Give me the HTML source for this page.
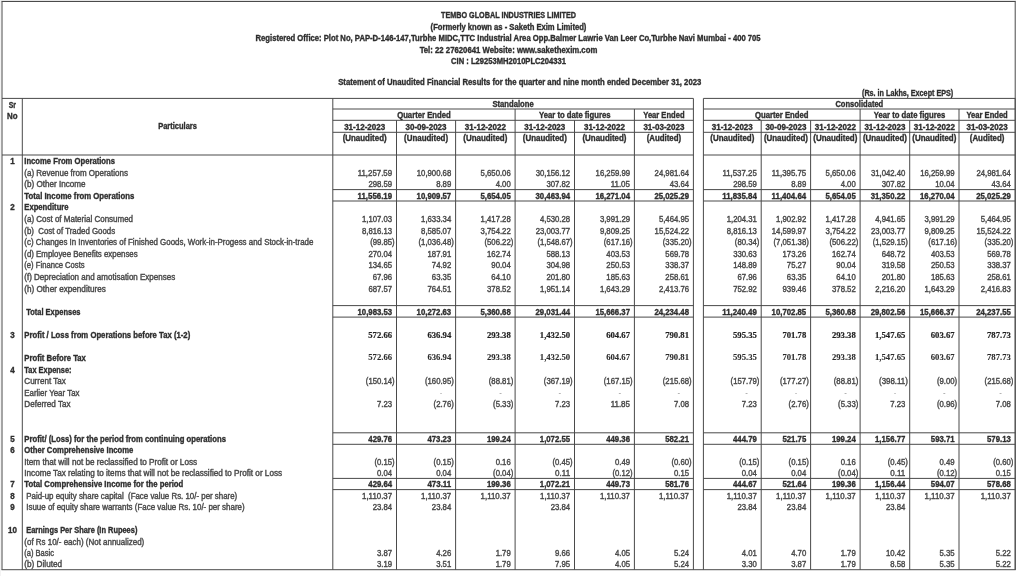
<!DOCTYPE html>
<html><head><meta charset="utf-8"><title>Tembo Global Industries - Unaudited Financial Results</title>
<style>
html,body{margin:0;padding:0;background:#fff;}
body{width:1024px;height:576px;overflow:hidden;position:relative;}
svg{position:absolute;left:0;top:0;display:block;will-change:transform;}
svg text{white-space:pre;}
text{font-family:"Liberation Sans",Arial,sans-serif;font-size:8.2px;fill:#1f1f1f;}
text.b{font-weight:bold;fill:#2e2e2e;stroke:#2e2e2e;stroke-width:0.34px;}
text.r{fill:#4a4a4a;stroke:#4a4a4a;stroke-width:0.4px;}
text.d{fill:#9a9a9a;}
text.s2{font-family:"Liberation Serif",serif;font-weight:bold;font-size:8.6px;fill:#2a2a2a;stroke:#2a2a2a;stroke-width:0.08px;}
text.s{font-family:"Liberation Serif",serif;font-weight:bold;font-size:8.6px;stroke:#1f1f1f;stroke-width:0.2px;}
</style></head>
<body>
<svg width="1024" height="576" viewBox="0 0 1024 576">
<rect x="0" y="0" width="1016" height="1" fill="#e6e6e6"/>
<rect x="0" y="0" width="1" height="576" fill="#f3f3f3"/>
<rect x="1.50" y="1.00" width="1014.20" height="1.0" fill="#4a4a4a"/>
<rect x="1.50" y="569.20" width="1014.20" height="1.0" fill="#4a4a4a"/>
<rect x="1.50" y="1.50" width="1.0" height="568.20" fill="#4a4a4a"/>
<rect x="1014.70" y="1.50" width="1.0" height="568.20" fill="#4a4a4a"/>
<rect x="2.00" y="97.90" width="691.40" height="1.0" fill="#4a4a4a"/>
<rect x="703.40" y="97.90" width="311.80" height="1.0" fill="#4a4a4a"/>
<rect x="332.80" y="108.50" width="360.60" height="1.0" fill="#4a4a4a"/>
<rect x="703.40" y="108.50" width="311.80" height="1.0" fill="#4a4a4a"/>
<rect x="332.80" y="119.80" width="360.60" height="1.0" fill="#4a4a4a"/>
<rect x="703.40" y="119.80" width="311.80" height="1.0" fill="#4a4a4a"/>
<rect x="332.80" y="131.80" width="360.60" height="1.0" fill="#4a4a4a"/>
<rect x="703.40" y="131.80" width="311.80" height="1.0" fill="#4a4a4a"/>
<rect x="2.00" y="154.50" width="691.40" height="1.0" fill="#4a4a4a"/>
<rect x="703.40" y="154.50" width="311.80" height="1.0" fill="#4a4a4a"/>
<rect x="21.80" y="98.40" width="1.0" height="471.30" fill="#4a4a4a"/>
<rect x="332.30" y="98.40" width="1.0" height="471.30" fill="#4a4a4a"/>
<rect x="692.90" y="98.40" width="1.0" height="471.30" fill="#4a4a4a"/>
<rect x="514.60" y="109.00" width="1.0" height="460.70" fill="#4a4a4a"/>
<rect x="633.90" y="109.00" width="1.0" height="460.70" fill="#4a4a4a"/>
<rect x="396.00" y="120.30" width="1.0" height="449.40" fill="#4a4a4a"/>
<rect x="455.10" y="120.30" width="1.0" height="449.40" fill="#4a4a4a"/>
<rect x="574.00" y="120.30" width="1.0" height="449.40" fill="#4a4a4a"/>
<rect x="702.90" y="98.40" width="1.0" height="471.30" fill="#4a4a4a"/>
<rect x="1014.70" y="98.40" width="1.0" height="471.30" fill="#4a4a4a"/>
<rect x="859.60" y="109.00" width="1.0" height="460.70" fill="#4a4a4a"/>
<rect x="958.50" y="109.00" width="1.0" height="460.70" fill="#4a4a4a"/>
<rect x="760.70" y="120.30" width="1.0" height="449.40" fill="#4a4a4a"/>
<rect x="810.10" y="120.30" width="1.0" height="449.40" fill="#4a4a4a"/>
<rect x="909.20" y="120.30" width="1.0" height="449.40" fill="#4a4a4a"/>
<rect x="332.80" y="189.10" width="360.60" height="1.0" fill="#4a4a4a"/>
<rect x="332.80" y="200.50" width="360.60" height="1.0" fill="#4a4a4a"/>
<rect x="703.40" y="189.10" width="311.80" height="1.0" fill="#4a4a4a"/>
<rect x="703.40" y="200.50" width="311.80" height="1.0" fill="#4a4a4a"/>
<rect x="332.80" y="305.10" width="360.60" height="1.0" fill="#4a4a4a"/>
<rect x="332.80" y="316.60" width="360.60" height="1.0" fill="#4a4a4a"/>
<rect x="703.40" y="305.10" width="311.80" height="1.0" fill="#4a4a4a"/>
<rect x="703.40" y="316.60" width="311.80" height="1.0" fill="#4a4a4a"/>
<rect x="332.80" y="432.30" width="360.60" height="1.0" fill="#4a4a4a"/>
<rect x="332.80" y="443.80" width="360.60" height="1.0" fill="#4a4a4a"/>
<rect x="703.40" y="432.30" width="311.80" height="1.0" fill="#4a4a4a"/>
<rect x="703.40" y="443.80" width="311.80" height="1.0" fill="#4a4a4a"/>
<rect x="332.80" y="477.90" width="360.60" height="1.0" fill="#4a4a4a"/>
<rect x="332.80" y="489.10" width="360.60" height="1.0" fill="#4a4a4a"/>
<rect x="703.40" y="477.90" width="311.80" height="1.0" fill="#4a4a4a"/>
<rect x="703.40" y="489.10" width="311.80" height="1.0" fill="#4a4a4a"/>
<text class="b" x="508.50" y="18.00" text-anchor="middle" textLength="134.91" lengthAdjust="spacingAndGlyphs">TEMBO GLOBAL INDUSTRIES LIMITED</text>
<text class="b" x="508.50" y="29.60" text-anchor="middle" textLength="155.78" lengthAdjust="spacingAndGlyphs">(Formerly known as - Saketh Exim Limited)</text>
<text class="b" x="508.10" y="41.20" text-anchor="middle" textLength="505.05" lengthAdjust="spacingAndGlyphs">Registered Office: Plot No, PAP-D-146-147,Turbhe MIDC,TTC Industrial Area Opp.Balmer Lawrie Van Leer Co,Turbhe Navi Mumbai - 400 705</text>
<text class="b" x="508.50" y="52.70" text-anchor="middle" textLength="177.72" lengthAdjust="spacingAndGlyphs">Tel: 22 27620641 Website: www.sakethexim.com</text>
<text class="b" x="508.50" y="64.20" text-anchor="middle" textLength="114.82" lengthAdjust="spacingAndGlyphs">CIN : L29253MH2010PLC204331</text>
<text class="b" x="338.20" y="84.60" textLength="363.07" lengthAdjust="spacingAndGlyphs">Statement of Unaudited Financial Results for the quarter and nine month ended December 31, 2023</text>
<text class="b" x="862.00" y="95.80" textLength="91.24" lengthAdjust="spacingAndGlyphs">(Rs. in Lakhs, Except EPS)</text>
<text class="b" x="12.30" y="107.80" text-anchor="middle" textLength="7.27" lengthAdjust="spacingAndGlyphs">Sr</text>
<text class="b" x="12.30" y="118.90" text-anchor="middle" textLength="10.50" lengthAdjust="spacingAndGlyphs">No</text>
<text class="b" x="177.55" y="128.80" text-anchor="middle" textLength="38.83" lengthAdjust="spacingAndGlyphs">Particulars</text>
<text class="b" x="513.10" y="106.90" text-anchor="middle" textLength="41.29" lengthAdjust="spacingAndGlyphs">Standalone</text>
<text class="b" x="423.95" y="117.90" text-anchor="middle" textLength="53.60" lengthAdjust="spacingAndGlyphs">Quarter Ended</text>
<text class="b" x="574.75" y="117.90" text-anchor="middle" textLength="71.52" lengthAdjust="spacingAndGlyphs">Year to date figures</text>
<text class="b" x="663.90" y="117.90" text-anchor="middle" textLength="41.26" lengthAdjust="spacingAndGlyphs">Year Ended</text>
<text class="b" x="364.65" y="129.50" text-anchor="middle" textLength="40.98" lengthAdjust="spacingAndGlyphs">31-12-2023</text>
<text class="b" x="364.65" y="141.20" text-anchor="middle" textLength="44.00" lengthAdjust="spacingAndGlyphs">(Unaudited)</text>
<text class="b" x="426.05" y="129.50" text-anchor="middle" textLength="40.98" lengthAdjust="spacingAndGlyphs">30-09-2023</text>
<text class="b" x="426.05" y="141.20" text-anchor="middle" textLength="44.00" lengthAdjust="spacingAndGlyphs">(Unaudited)</text>
<text class="b" x="485.35" y="129.50" text-anchor="middle" textLength="40.98" lengthAdjust="spacingAndGlyphs">31-12-2022</text>
<text class="b" x="485.35" y="141.20" text-anchor="middle" textLength="44.00" lengthAdjust="spacingAndGlyphs">(Unaudited)</text>
<text class="b" x="544.80" y="129.50" text-anchor="middle" textLength="40.98" lengthAdjust="spacingAndGlyphs">31-12-2023</text>
<text class="b" x="544.80" y="141.20" text-anchor="middle" textLength="44.00" lengthAdjust="spacingAndGlyphs">(Unaudited)</text>
<text class="b" x="604.45" y="129.50" text-anchor="middle" textLength="40.98" lengthAdjust="spacingAndGlyphs">31-12-2022</text>
<text class="b" x="604.45" y="141.20" text-anchor="middle" textLength="44.00" lengthAdjust="spacingAndGlyphs">(Unaudited)</text>
<text class="b" x="663.90" y="129.50" text-anchor="middle" textLength="40.98" lengthAdjust="spacingAndGlyphs">31-03-2023</text>
<text class="b" x="663.90" y="141.20" text-anchor="middle" textLength="34.55" lengthAdjust="spacingAndGlyphs">(Audited)</text>
<text class="b" x="859.30" y="106.90" text-anchor="middle" textLength="47.84" lengthAdjust="spacingAndGlyphs">Consolidated</text>
<text class="b" x="781.75" y="117.90" text-anchor="middle" textLength="53.60" lengthAdjust="spacingAndGlyphs">Quarter Ended</text>
<text class="b" x="909.55" y="117.90" text-anchor="middle" textLength="71.52" lengthAdjust="spacingAndGlyphs">Year to date figures</text>
<text class="b" x="987.10" y="117.90" text-anchor="middle" textLength="41.26" lengthAdjust="spacingAndGlyphs">Year Ended</text>
<text class="b" x="732.30" y="129.50" text-anchor="middle" textLength="40.98" lengthAdjust="spacingAndGlyphs">31-12-2023</text>
<text class="b" x="732.30" y="141.20" text-anchor="middle" textLength="44.00" lengthAdjust="spacingAndGlyphs">(Unaudited)</text>
<text class="b" x="785.90" y="129.50" text-anchor="middle" textLength="40.98" lengthAdjust="spacingAndGlyphs">30-09-2023</text>
<text class="b" x="785.90" y="141.20" text-anchor="middle" textLength="44.00" lengthAdjust="spacingAndGlyphs">(Unaudited)</text>
<text class="b" x="835.35" y="129.50" text-anchor="middle" textLength="40.98" lengthAdjust="spacingAndGlyphs">31-12-2022</text>
<text class="b" x="835.35" y="141.20" text-anchor="middle" textLength="44.00" lengthAdjust="spacingAndGlyphs">(Unaudited)</text>
<text class="b" x="884.90" y="129.50" text-anchor="middle" textLength="40.98" lengthAdjust="spacingAndGlyphs">31-12-2023</text>
<text class="b" x="884.90" y="141.20" text-anchor="middle" textLength="44.00" lengthAdjust="spacingAndGlyphs">(Unaudited)</text>
<text class="b" x="934.35" y="129.50" text-anchor="middle" textLength="40.98" lengthAdjust="spacingAndGlyphs">31-12-2022</text>
<text class="b" x="934.35" y="141.20" text-anchor="middle" textLength="44.00" lengthAdjust="spacingAndGlyphs">(Unaudited)</text>
<text class="b" x="987.10" y="129.50" text-anchor="middle" textLength="40.98" lengthAdjust="spacingAndGlyphs">31-03-2023</text>
<text class="b" x="987.10" y="141.20" text-anchor="middle" textLength="34.55" lengthAdjust="spacingAndGlyphs">(Audited)</text>
<text class="b" x="12.50" y="164.23" text-anchor="middle" textLength="4.45" lengthAdjust="spacingAndGlyphs">1</text>
<text class="b" x="24.30" y="164.23" textLength="90.65" lengthAdjust="spacingAndGlyphs">Income From Operations</text>
<text class="r" x="24.30" y="175.77" textLength="103.63" lengthAdjust="spacingAndGlyphs">(a) Revenue from Operations</text>
<text class="r" x="24.30" y="187.30" textLength="61.25" lengthAdjust="spacingAndGlyphs">(b) Other Income</text>
<text class="b" x="24.30" y="198.70" textLength="109.99" lengthAdjust="spacingAndGlyphs">Total Income from Operations</text>
<text class="b" x="12.50" y="210.32" text-anchor="middle" textLength="4.45" lengthAdjust="spacingAndGlyphs">2</text>
<text class="b" x="24.30" y="210.32" textLength="44.32" lengthAdjust="spacingAndGlyphs">Expenditure</text>
<text class="r" x="24.30" y="221.94" textLength="108.75" lengthAdjust="spacingAndGlyphs">(a) Cost of Material Consumed</text>
<text class="r" x="24.30" y="233.57" textLength="90.84" lengthAdjust="spacingAndGlyphs">(b)  Cost of Traded Goods</text>
<text class="r" x="24.30" y="245.19" textLength="289.08" lengthAdjust="spacingAndGlyphs">(c) Changes In Inventories of Finished Goods, Work-in-Progess and Stock-in-trade</text>
<text class="r" x="24.30" y="256.81" textLength="113.36" lengthAdjust="spacingAndGlyphs">(d) Employee Benefits expenses</text>
<text class="r" x="24.30" y="268.43" textLength="60.35" lengthAdjust="spacingAndGlyphs">(e) Finance Costs</text>
<text class="r" x="24.30" y="280.06" textLength="150.88" lengthAdjust="spacingAndGlyphs">(f) Depreciation and amotisation Expenses</text>
<text class="r" x="24.30" y="291.68" textLength="81.52" lengthAdjust="spacingAndGlyphs">(h) Other expenditures</text>
<text class="b" x="26.28" y="314.80" textLength="54.17" lengthAdjust="spacingAndGlyphs">Total Expenses</text>
<text class="b" x="12.50" y="337.94" text-anchor="middle" textLength="4.45" lengthAdjust="spacingAndGlyphs">3</text>
<text class="b" x="24.30" y="337.94" textLength="165.96" lengthAdjust="spacingAndGlyphs">Profit / Loss from Operations before Tax (1-2)</text>
<text class="b" x="24.30" y="361.08" textLength="61.56" lengthAdjust="spacingAndGlyphs">Profit Before Tax</text>
<text class="b" x="12.50" y="372.65" text-anchor="middle" textLength="4.45" lengthAdjust="spacingAndGlyphs">4</text>
<text class="b" x="24.30" y="372.65" textLength="47.21" lengthAdjust="spacingAndGlyphs">Tax Expense:</text>
<text class="r" x="24.30" y="384.22" textLength="41.61" lengthAdjust="spacingAndGlyphs">Current Tax</text>
<text class="r" x="24.30" y="395.79" textLength="55.18" lengthAdjust="spacingAndGlyphs">Earlier Year Tax</text>
<text class="r" x="24.30" y="407.36" textLength="46.19" lengthAdjust="spacingAndGlyphs">Deferred Tax</text>
<text class="b" x="12.50" y="442.00" text-anchor="middle" textLength="4.45" lengthAdjust="spacingAndGlyphs">5</text>
<text class="b" x="24.30" y="442.00" textLength="201.67" lengthAdjust="spacingAndGlyphs">Profit/ (Loss) for the period from continuing operations</text>
<text class="b" x="12.50" y="453.37" text-anchor="middle" textLength="4.45" lengthAdjust="spacingAndGlyphs">6</text>
<text class="b" x="24.30" y="453.37" textLength="109.05" lengthAdjust="spacingAndGlyphs">Other Comprehensive Income</text>
<text class="r" x="24.30" y="464.73" textLength="172.82" lengthAdjust="spacingAndGlyphs">Item that will not be reclassified to Profit or Loss</text>
<text class="r" x="24.30" y="476.10" textLength="257.76" lengthAdjust="spacingAndGlyphs">Income Tax relating to items that will not be reclassified to Profit or Loss</text>
<text class="b" x="12.50" y="487.30" text-anchor="middle" textLength="4.45" lengthAdjust="spacingAndGlyphs">7</text>
<text class="b" x="24.30" y="487.30" textLength="159.01" lengthAdjust="spacingAndGlyphs">Total Comprehensive Income for the period</text>
<text class="b" x="12.50" y="498.74" text-anchor="middle" textLength="4.45" lengthAdjust="spacingAndGlyphs">8</text>
<text class="r" x="26.28" y="498.74" textLength="210.98" lengthAdjust="spacingAndGlyphs">Paid-up equity share capital  (Face value Rs. 10/- per share)</text>
<text class="b" x="12.50" y="510.19" text-anchor="middle" textLength="4.45" lengthAdjust="spacingAndGlyphs">9</text>
<text class="r" x="26.28" y="510.19" textLength="218.34" lengthAdjust="spacingAndGlyphs">Isuue of equity share warrants (Face value Rs. 10/- per share)</text>
<text class="b" x="12.50" y="533.07" text-anchor="middle" textLength="8.90" lengthAdjust="spacingAndGlyphs">10</text>
<text class="b" x="26.28" y="533.07" textLength="111.10" lengthAdjust="spacingAndGlyphs">Earnings Per Share (In Rupees)</text>
<text class="r" x="24.30" y="544.51" textLength="119.93" lengthAdjust="spacingAndGlyphs">(of Rs 10/- each) (Not annualized)</text>
<text class="r" x="24.30" y="555.96" textLength="29.66" lengthAdjust="spacingAndGlyphs">(a) Basic</text>
<text class="r" x="24.30" y="567.40" textLength="37.89" lengthAdjust="spacingAndGlyphs">(b) Diluted</text>
<text class="r" x="392.12" y="175.77" text-anchor="end" textLength="34.42" lengthAdjust="spacingAndGlyphs">11,257.59</text>
<text class="r" x="451.22" y="175.77" text-anchor="end" textLength="34.42" lengthAdjust="spacingAndGlyphs">10,900.68</text>
<text class="r" x="510.72" y="175.77" text-anchor="end" textLength="30.12" lengthAdjust="spacingAndGlyphs">5,650.06</text>
<text class="r" x="570.12" y="175.77" text-anchor="end" textLength="34.42" lengthAdjust="spacingAndGlyphs">30,156.12</text>
<text class="r" x="630.02" y="175.77" text-anchor="end" textLength="34.42" lengthAdjust="spacingAndGlyphs">16,259.99</text>
<text class="r" x="689.02" y="175.77" text-anchor="end" textLength="34.42" lengthAdjust="spacingAndGlyphs">24,981.64</text>
<text class="r" x="756.82" y="175.77" text-anchor="end" textLength="34.42" lengthAdjust="spacingAndGlyphs">11,537.25</text>
<text class="r" x="806.22" y="175.77" text-anchor="end" textLength="34.42" lengthAdjust="spacingAndGlyphs">11,395.75</text>
<text class="r" x="855.72" y="175.77" text-anchor="end" textLength="30.12" lengthAdjust="spacingAndGlyphs">5,650.06</text>
<text class="r" x="905.32" y="175.77" text-anchor="end" textLength="34.42" lengthAdjust="spacingAndGlyphs">31,042.40</text>
<text class="r" x="954.62" y="175.77" text-anchor="end" textLength="34.42" lengthAdjust="spacingAndGlyphs">16,259.99</text>
<text class="r" x="1010.82" y="175.77" text-anchor="end" textLength="34.42" lengthAdjust="spacingAndGlyphs">24,981.64</text>
<text class="r" x="392.12" y="187.30" text-anchor="end" textLength="23.69" lengthAdjust="spacingAndGlyphs">298.59</text>
<text class="r" x="451.22" y="187.30" text-anchor="end" textLength="15.07" lengthAdjust="spacingAndGlyphs">8.89</text>
<text class="r" x="510.72" y="187.30" text-anchor="end" textLength="15.07" lengthAdjust="spacingAndGlyphs">4.00</text>
<text class="r" x="570.12" y="187.30" text-anchor="end" textLength="23.69" lengthAdjust="spacingAndGlyphs">307.82</text>
<text class="r" x="630.02" y="187.30" text-anchor="end" textLength="19.38" lengthAdjust="spacingAndGlyphs">11.05</text>
<text class="r" x="689.02" y="187.30" text-anchor="end" textLength="19.38" lengthAdjust="spacingAndGlyphs">43.64</text>
<text class="r" x="756.82" y="187.30" text-anchor="end" textLength="23.69" lengthAdjust="spacingAndGlyphs">298.59</text>
<text class="r" x="806.22" y="187.30" text-anchor="end" textLength="15.07" lengthAdjust="spacingAndGlyphs">8.89</text>
<text class="r" x="855.72" y="187.30" text-anchor="end" textLength="15.07" lengthAdjust="spacingAndGlyphs">4.00</text>
<text class="r" x="905.32" y="187.30" text-anchor="end" textLength="23.69" lengthAdjust="spacingAndGlyphs">307.82</text>
<text class="r" x="954.62" y="187.30" text-anchor="end" textLength="19.38" lengthAdjust="spacingAndGlyphs">10.04</text>
<text class="r" x="1010.82" y="187.30" text-anchor="end" textLength="19.38" lengthAdjust="spacingAndGlyphs">43.64</text>
<text class="b" x="392.12" y="198.70" text-anchor="end" textLength="34.62" lengthAdjust="spacingAndGlyphs">11,556.19</text>
<text class="b" x="451.22" y="198.70" text-anchor="end" textLength="34.62" lengthAdjust="spacingAndGlyphs">10,909.57</text>
<text class="b" x="510.72" y="198.70" text-anchor="end" textLength="30.31" lengthAdjust="spacingAndGlyphs">5,654.05</text>
<text class="b" x="570.12" y="198.70" text-anchor="end" textLength="34.62" lengthAdjust="spacingAndGlyphs">30,463.94</text>
<text class="b" x="630.02" y="198.70" text-anchor="end" textLength="34.62" lengthAdjust="spacingAndGlyphs">16,271.04</text>
<text class="b" x="689.02" y="198.70" text-anchor="end" textLength="34.62" lengthAdjust="spacingAndGlyphs">25,025.29</text>
<text class="b" x="756.82" y="198.70" text-anchor="end" textLength="34.62" lengthAdjust="spacingAndGlyphs">11,835.84</text>
<text class="b" x="806.22" y="198.70" text-anchor="end" textLength="34.62" lengthAdjust="spacingAndGlyphs">11,404.64</text>
<text class="b" x="855.72" y="198.70" text-anchor="end" textLength="30.31" lengthAdjust="spacingAndGlyphs">5,654.05</text>
<text class="b" x="905.32" y="198.70" text-anchor="end" textLength="34.62" lengthAdjust="spacingAndGlyphs">31,350.22</text>
<text class="b" x="954.62" y="198.70" text-anchor="end" textLength="34.62" lengthAdjust="spacingAndGlyphs">16,270.04</text>
<text class="b" x="1010.82" y="198.70" text-anchor="end" textLength="34.62" lengthAdjust="spacingAndGlyphs">25,025.29</text>
<text class="r" x="392.12" y="221.94" text-anchor="end" textLength="30.12" lengthAdjust="spacingAndGlyphs">1,107.03</text>
<text class="r" x="451.22" y="221.94" text-anchor="end" textLength="30.12" lengthAdjust="spacingAndGlyphs">1,633.34</text>
<text class="r" x="510.72" y="221.94" text-anchor="end" textLength="30.12" lengthAdjust="spacingAndGlyphs">1,417.28</text>
<text class="r" x="570.12" y="221.94" text-anchor="end" textLength="30.12" lengthAdjust="spacingAndGlyphs">4,530.28</text>
<text class="r" x="630.02" y="221.94" text-anchor="end" textLength="30.12" lengthAdjust="spacingAndGlyphs">3,991.29</text>
<text class="r" x="689.02" y="221.94" text-anchor="end" textLength="30.12" lengthAdjust="spacingAndGlyphs">5,464.95</text>
<text class="r" x="756.82" y="221.94" text-anchor="end" textLength="30.12" lengthAdjust="spacingAndGlyphs">1,204.31</text>
<text class="r" x="806.22" y="221.94" text-anchor="end" textLength="30.12" lengthAdjust="spacingAndGlyphs">1,902.92</text>
<text class="r" x="855.72" y="221.94" text-anchor="end" textLength="30.12" lengthAdjust="spacingAndGlyphs">1,417.28</text>
<text class="r" x="905.32" y="221.94" text-anchor="end" textLength="30.12" lengthAdjust="spacingAndGlyphs">4,941.65</text>
<text class="r" x="954.62" y="221.94" text-anchor="end" textLength="30.12" lengthAdjust="spacingAndGlyphs">3,991.29</text>
<text class="r" x="1010.82" y="221.94" text-anchor="end" textLength="30.12" lengthAdjust="spacingAndGlyphs">5,464.95</text>
<text class="r" x="392.12" y="233.57" text-anchor="end" textLength="30.12" lengthAdjust="spacingAndGlyphs">8,816.13</text>
<text class="r" x="451.22" y="233.57" text-anchor="end" textLength="30.12" lengthAdjust="spacingAndGlyphs">8,585.07</text>
<text class="r" x="510.72" y="233.57" text-anchor="end" textLength="30.12" lengthAdjust="spacingAndGlyphs">3,754.22</text>
<text class="r" x="570.12" y="233.57" text-anchor="end" textLength="34.42" lengthAdjust="spacingAndGlyphs">23,003.77</text>
<text class="r" x="630.02" y="233.57" text-anchor="end" textLength="30.12" lengthAdjust="spacingAndGlyphs">9,809.25</text>
<text class="r" x="689.02" y="233.57" text-anchor="end" textLength="34.42" lengthAdjust="spacingAndGlyphs">15,524.22</text>
<text class="r" x="756.82" y="233.57" text-anchor="end" textLength="30.12" lengthAdjust="spacingAndGlyphs">8,816.13</text>
<text class="r" x="806.22" y="233.57" text-anchor="end" textLength="34.42" lengthAdjust="spacingAndGlyphs">14,599.97</text>
<text class="r" x="855.72" y="233.57" text-anchor="end" textLength="30.12" lengthAdjust="spacingAndGlyphs">3,754.22</text>
<text class="r" x="905.32" y="233.57" text-anchor="end" textLength="34.42" lengthAdjust="spacingAndGlyphs">23,003.77</text>
<text class="r" x="954.62" y="233.57" text-anchor="end" textLength="30.12" lengthAdjust="spacingAndGlyphs">9,809.25</text>
<text class="r" x="1010.82" y="233.57" text-anchor="end" textLength="34.42" lengthAdjust="spacingAndGlyphs">15,524.22</text>
<text class="r" x="394.70" y="245.19" text-anchor="end" textLength="24.53" lengthAdjust="spacingAndGlyphs">(99.85)</text>
<text class="r" x="453.80" y="245.19" text-anchor="end" textLength="35.27" lengthAdjust="spacingAndGlyphs">(1,036.48)</text>
<text class="r" x="513.30" y="245.19" text-anchor="end" textLength="28.84" lengthAdjust="spacingAndGlyphs">(506.22)</text>
<text class="r" x="572.70" y="245.19" text-anchor="end" textLength="35.27" lengthAdjust="spacingAndGlyphs">(1,548.67)</text>
<text class="r" x="632.60" y="245.19" text-anchor="end" textLength="28.84" lengthAdjust="spacingAndGlyphs">(617.16)</text>
<text class="r" x="691.60" y="245.19" text-anchor="end" textLength="28.84" lengthAdjust="spacingAndGlyphs">(335.20)</text>
<text class="r" x="759.40" y="245.19" text-anchor="end" textLength="24.53" lengthAdjust="spacingAndGlyphs">(80.34)</text>
<text class="r" x="808.80" y="245.19" text-anchor="end" textLength="35.27" lengthAdjust="spacingAndGlyphs">(7,051.38)</text>
<text class="r" x="858.30" y="245.19" text-anchor="end" textLength="28.84" lengthAdjust="spacingAndGlyphs">(506.22)</text>
<text class="r" x="907.90" y="245.19" text-anchor="end" textLength="35.27" lengthAdjust="spacingAndGlyphs">(1,529.15)</text>
<text class="r" x="957.20" y="245.19" text-anchor="end" textLength="28.84" lengthAdjust="spacingAndGlyphs">(617.16)</text>
<text class="r" x="1013.40" y="245.19" text-anchor="end" textLength="28.84" lengthAdjust="spacingAndGlyphs">(335.20)</text>
<text class="r" x="392.12" y="256.81" text-anchor="end" textLength="23.69" lengthAdjust="spacingAndGlyphs">270.04</text>
<text class="r" x="451.22" y="256.81" text-anchor="end" textLength="23.69" lengthAdjust="spacingAndGlyphs">187.91</text>
<text class="r" x="510.72" y="256.81" text-anchor="end" textLength="23.69" lengthAdjust="spacingAndGlyphs">162.74</text>
<text class="r" x="570.12" y="256.81" text-anchor="end" textLength="23.69" lengthAdjust="spacingAndGlyphs">588.13</text>
<text class="r" x="630.02" y="256.81" text-anchor="end" textLength="23.69" lengthAdjust="spacingAndGlyphs">403.53</text>
<text class="r" x="689.02" y="256.81" text-anchor="end" textLength="23.69" lengthAdjust="spacingAndGlyphs">569.78</text>
<text class="r" x="756.82" y="256.81" text-anchor="end" textLength="23.69" lengthAdjust="spacingAndGlyphs">330.63</text>
<text class="r" x="806.22" y="256.81" text-anchor="end" textLength="23.69" lengthAdjust="spacingAndGlyphs">173.26</text>
<text class="r" x="855.72" y="256.81" text-anchor="end" textLength="23.69" lengthAdjust="spacingAndGlyphs">162.74</text>
<text class="r" x="905.32" y="256.81" text-anchor="end" textLength="23.69" lengthAdjust="spacingAndGlyphs">648.72</text>
<text class="r" x="954.62" y="256.81" text-anchor="end" textLength="23.69" lengthAdjust="spacingAndGlyphs">403.53</text>
<text class="r" x="1010.82" y="256.81" text-anchor="end" textLength="23.69" lengthAdjust="spacingAndGlyphs">569.78</text>
<text class="r" x="392.12" y="268.43" text-anchor="end" textLength="23.69" lengthAdjust="spacingAndGlyphs">134.65</text>
<text class="r" x="451.22" y="268.43" text-anchor="end" textLength="19.38" lengthAdjust="spacingAndGlyphs">74.92</text>
<text class="r" x="510.72" y="268.43" text-anchor="end" textLength="19.38" lengthAdjust="spacingAndGlyphs">90.04</text>
<text class="r" x="570.12" y="268.43" text-anchor="end" textLength="23.69" lengthAdjust="spacingAndGlyphs">304.98</text>
<text class="r" x="630.02" y="268.43" text-anchor="end" textLength="23.69" lengthAdjust="spacingAndGlyphs">250.53</text>
<text class="r" x="689.02" y="268.43" text-anchor="end" textLength="23.69" lengthAdjust="spacingAndGlyphs">338.37</text>
<text class="r" x="756.82" y="268.43" text-anchor="end" textLength="23.69" lengthAdjust="spacingAndGlyphs">148.89</text>
<text class="r" x="806.22" y="268.43" text-anchor="end" textLength="19.38" lengthAdjust="spacingAndGlyphs">75.27</text>
<text class="r" x="855.72" y="268.43" text-anchor="end" textLength="19.38" lengthAdjust="spacingAndGlyphs">90.04</text>
<text class="r" x="905.32" y="268.43" text-anchor="end" textLength="23.69" lengthAdjust="spacingAndGlyphs">319.58</text>
<text class="r" x="954.62" y="268.43" text-anchor="end" textLength="23.69" lengthAdjust="spacingAndGlyphs">250.53</text>
<text class="r" x="1010.82" y="268.43" text-anchor="end" textLength="23.69" lengthAdjust="spacingAndGlyphs">338.37</text>
<text class="r" x="392.12" y="280.06" text-anchor="end" textLength="19.38" lengthAdjust="spacingAndGlyphs">67.96</text>
<text class="r" x="451.22" y="280.06" text-anchor="end" textLength="19.38" lengthAdjust="spacingAndGlyphs">63.35</text>
<text class="r" x="510.72" y="280.06" text-anchor="end" textLength="19.38" lengthAdjust="spacingAndGlyphs">64.10</text>
<text class="r" x="570.12" y="280.06" text-anchor="end" textLength="23.69" lengthAdjust="spacingAndGlyphs">201.80</text>
<text class="r" x="630.02" y="280.06" text-anchor="end" textLength="23.69" lengthAdjust="spacingAndGlyphs">185.63</text>
<text class="r" x="689.02" y="280.06" text-anchor="end" textLength="23.69" lengthAdjust="spacingAndGlyphs">258.61</text>
<text class="r" x="756.82" y="280.06" text-anchor="end" textLength="19.38" lengthAdjust="spacingAndGlyphs">67.96</text>
<text class="r" x="806.22" y="280.06" text-anchor="end" textLength="19.38" lengthAdjust="spacingAndGlyphs">63.35</text>
<text class="r" x="855.72" y="280.06" text-anchor="end" textLength="19.38" lengthAdjust="spacingAndGlyphs">64.10</text>
<text class="r" x="905.32" y="280.06" text-anchor="end" textLength="23.69" lengthAdjust="spacingAndGlyphs">201.80</text>
<text class="r" x="954.62" y="280.06" text-anchor="end" textLength="23.69" lengthAdjust="spacingAndGlyphs">185.63</text>
<text class="r" x="1010.82" y="280.06" text-anchor="end" textLength="23.69" lengthAdjust="spacingAndGlyphs">258.61</text>
<text class="r" x="392.12" y="291.68" text-anchor="end" textLength="23.69" lengthAdjust="spacingAndGlyphs">687.57</text>
<text class="r" x="451.22" y="291.68" text-anchor="end" textLength="23.69" lengthAdjust="spacingAndGlyphs">764.51</text>
<text class="r" x="510.72" y="291.68" text-anchor="end" textLength="23.69" lengthAdjust="spacingAndGlyphs">378.52</text>
<text class="r" x="570.12" y="291.68" text-anchor="end" textLength="30.12" lengthAdjust="spacingAndGlyphs">1,951.14</text>
<text class="r" x="630.02" y="291.68" text-anchor="end" textLength="30.12" lengthAdjust="spacingAndGlyphs">1,643.29</text>
<text class="r" x="689.02" y="291.68" text-anchor="end" textLength="30.12" lengthAdjust="spacingAndGlyphs">2,413.76</text>
<text class="r" x="756.82" y="291.68" text-anchor="end" textLength="23.69" lengthAdjust="spacingAndGlyphs">752.92</text>
<text class="r" x="806.22" y="291.68" text-anchor="end" textLength="23.69" lengthAdjust="spacingAndGlyphs">939.46</text>
<text class="r" x="855.72" y="291.68" text-anchor="end" textLength="23.69" lengthAdjust="spacingAndGlyphs">378.52</text>
<text class="r" x="905.32" y="291.68" text-anchor="end" textLength="30.12" lengthAdjust="spacingAndGlyphs">2,216.20</text>
<text class="r" x="954.62" y="291.68" text-anchor="end" textLength="30.12" lengthAdjust="spacingAndGlyphs">1,643.29</text>
<text class="r" x="1010.82" y="291.68" text-anchor="end" textLength="30.12" lengthAdjust="spacingAndGlyphs">2,416.83</text>
<text class="b" x="392.12" y="314.80" text-anchor="end" textLength="34.62" lengthAdjust="spacingAndGlyphs">10,983.53</text>
<text class="b" x="451.22" y="314.80" text-anchor="end" textLength="34.62" lengthAdjust="spacingAndGlyphs">10,272.63</text>
<text class="b" x="510.72" y="314.80" text-anchor="end" textLength="30.31" lengthAdjust="spacingAndGlyphs">5,360.68</text>
<text class="b" x="570.12" y="314.80" text-anchor="end" textLength="34.62" lengthAdjust="spacingAndGlyphs">29,031.44</text>
<text class="b" x="630.02" y="314.80" text-anchor="end" textLength="34.62" lengthAdjust="spacingAndGlyphs">15,666.37</text>
<text class="b" x="689.02" y="314.80" text-anchor="end" textLength="34.62" lengthAdjust="spacingAndGlyphs">24,234.48</text>
<text class="b" x="756.82" y="314.80" text-anchor="end" textLength="34.62" lengthAdjust="spacingAndGlyphs">11,240.49</text>
<text class="b" x="806.22" y="314.80" text-anchor="end" textLength="34.62" lengthAdjust="spacingAndGlyphs">10,702.85</text>
<text class="b" x="855.72" y="314.80" text-anchor="end" textLength="30.31" lengthAdjust="spacingAndGlyphs">5,360.68</text>
<text class="b" x="905.32" y="314.80" text-anchor="end" textLength="34.62" lengthAdjust="spacingAndGlyphs">29,802.56</text>
<text class="b" x="954.62" y="314.80" text-anchor="end" textLength="34.62" lengthAdjust="spacingAndGlyphs">15,666.37</text>
<text class="b" x="1010.82" y="314.80" text-anchor="end" textLength="34.62" lengthAdjust="spacingAndGlyphs">24,237.55</text>
<text class="s" x="392.12" y="337.94" text-anchor="end" textLength="23.81" lengthAdjust="spacingAndGlyphs">572.66</text>
<text class="s" x="451.22" y="337.94" text-anchor="end" textLength="23.81" lengthAdjust="spacingAndGlyphs">636.94</text>
<text class="s" x="510.72" y="337.94" text-anchor="end" textLength="23.81" lengthAdjust="spacingAndGlyphs">293.38</text>
<text class="s" x="570.12" y="337.94" text-anchor="end" textLength="30.31" lengthAdjust="spacingAndGlyphs">1,432.50</text>
<text class="s" x="630.02" y="337.94" text-anchor="end" textLength="23.81" lengthAdjust="spacingAndGlyphs">604.67</text>
<text class="s" x="689.02" y="337.94" text-anchor="end" textLength="23.81" lengthAdjust="spacingAndGlyphs">790.81</text>
<text class="s" x="756.82" y="337.94" text-anchor="end" textLength="23.81" lengthAdjust="spacingAndGlyphs">595.35</text>
<text class="s" x="806.22" y="337.94" text-anchor="end" textLength="23.81" lengthAdjust="spacingAndGlyphs">701.78</text>
<text class="s" x="855.72" y="337.94" text-anchor="end" textLength="23.81" lengthAdjust="spacingAndGlyphs">293.38</text>
<text class="s" x="905.32" y="337.94" text-anchor="end" textLength="30.31" lengthAdjust="spacingAndGlyphs">1,547.65</text>
<text class="s" x="954.62" y="337.94" text-anchor="end" textLength="23.81" lengthAdjust="spacingAndGlyphs">603.67</text>
<text class="s" x="1010.82" y="337.94" text-anchor="end" textLength="23.81" lengthAdjust="spacingAndGlyphs">787.73</text>
<text class="s2" x="392.12" y="360.48" text-anchor="end" textLength="23.81" lengthAdjust="spacingAndGlyphs">572.66</text>
<text class="s2" x="451.22" y="360.48" text-anchor="end" textLength="23.81" lengthAdjust="spacingAndGlyphs">636.94</text>
<text class="s2" x="510.72" y="360.48" text-anchor="end" textLength="23.81" lengthAdjust="spacingAndGlyphs">293.38</text>
<text class="s2" x="570.12" y="360.48" text-anchor="end" textLength="30.31" lengthAdjust="spacingAndGlyphs">1,432.50</text>
<text class="s2" x="630.02" y="360.48" text-anchor="end" textLength="23.81" lengthAdjust="spacingAndGlyphs">604.67</text>
<text class="s2" x="689.02" y="360.48" text-anchor="end" textLength="23.81" lengthAdjust="spacingAndGlyphs">790.81</text>
<text class="s2" x="756.82" y="360.48" text-anchor="end" textLength="23.81" lengthAdjust="spacingAndGlyphs">595.35</text>
<text class="s2" x="806.22" y="360.48" text-anchor="end" textLength="23.81" lengthAdjust="spacingAndGlyphs">701.78</text>
<text class="s2" x="855.72" y="360.48" text-anchor="end" textLength="23.81" lengthAdjust="spacingAndGlyphs">293.38</text>
<text class="s2" x="905.32" y="360.48" text-anchor="end" textLength="30.31" lengthAdjust="spacingAndGlyphs">1,547.65</text>
<text class="s2" x="954.62" y="360.48" text-anchor="end" textLength="23.81" lengthAdjust="spacingAndGlyphs">603.67</text>
<text class="s2" x="1010.82" y="360.48" text-anchor="end" textLength="23.81" lengthAdjust="spacingAndGlyphs">787.73</text>
<text class="r" x="394.70" y="384.22" text-anchor="end" textLength="28.84" lengthAdjust="spacingAndGlyphs">(150.14)</text>
<text class="r" x="453.80" y="384.22" text-anchor="end" textLength="28.84" lengthAdjust="spacingAndGlyphs">(160.95)</text>
<text class="r" x="513.30" y="384.22" text-anchor="end" textLength="24.53" lengthAdjust="spacingAndGlyphs">(88.81)</text>
<text class="r" x="572.70" y="384.22" text-anchor="end" textLength="28.84" lengthAdjust="spacingAndGlyphs">(367.19)</text>
<text class="r" x="632.60" y="384.22" text-anchor="end" textLength="28.84" lengthAdjust="spacingAndGlyphs">(167.15)</text>
<text class="r" x="691.60" y="384.22" text-anchor="end" textLength="28.84" lengthAdjust="spacingAndGlyphs">(215.68)</text>
<text class="r" x="759.40" y="384.22" text-anchor="end" textLength="28.84" lengthAdjust="spacingAndGlyphs">(157.79)</text>
<text class="r" x="808.80" y="384.22" text-anchor="end" textLength="28.84" lengthAdjust="spacingAndGlyphs">(177.27)</text>
<text class="r" x="858.30" y="384.22" text-anchor="end" textLength="24.53" lengthAdjust="spacingAndGlyphs">(88.81)</text>
<text class="r" x="907.90" y="384.22" text-anchor="end" textLength="28.84" lengthAdjust="spacingAndGlyphs">(398.11)</text>
<text class="r" x="957.20" y="384.22" text-anchor="end" textLength="20.22" lengthAdjust="spacingAndGlyphs">(9.00)</text>
<text class="r" x="1013.40" y="384.22" text-anchor="end" textLength="28.84" lengthAdjust="spacingAndGlyphs">(215.68)</text>
<text class="d" x="442.30" y="395.79" text-anchor="end" textLength="2.60" lengthAdjust="spacingAndGlyphs">-</text>
<text class="d" x="501.80" y="395.79" text-anchor="end" textLength="2.60" lengthAdjust="spacingAndGlyphs">-</text>
<text class="d" x="561.20" y="395.79" text-anchor="end" textLength="2.60" lengthAdjust="spacingAndGlyphs">-</text>
<text class="d" x="621.10" y="395.79" text-anchor="end" textLength="2.60" lengthAdjust="spacingAndGlyphs">-</text>
<text class="d" x="680.10" y="395.79" text-anchor="end" textLength="2.60" lengthAdjust="spacingAndGlyphs">-</text>
<text class="d" x="747.90" y="395.79" text-anchor="end" textLength="2.60" lengthAdjust="spacingAndGlyphs">-</text>
<text class="d" x="797.30" y="395.79" text-anchor="end" textLength="2.60" lengthAdjust="spacingAndGlyphs">-</text>
<text class="d" x="846.80" y="395.79" text-anchor="end" textLength="2.60" lengthAdjust="spacingAndGlyphs">-</text>
<text class="d" x="896.40" y="395.79" text-anchor="end" textLength="2.60" lengthAdjust="spacingAndGlyphs">-</text>
<text class="d" x="945.70" y="395.79" text-anchor="end" textLength="2.60" lengthAdjust="spacingAndGlyphs">-</text>
<text class="d" x="1001.90" y="395.79" text-anchor="end" textLength="2.60" lengthAdjust="spacingAndGlyphs">-</text>
<text class="r" x="392.12" y="407.36" text-anchor="end" textLength="15.07" lengthAdjust="spacingAndGlyphs">7.23</text>
<text class="r" x="453.80" y="407.36" text-anchor="end" textLength="20.22" lengthAdjust="spacingAndGlyphs">(2.76)</text>
<text class="r" x="513.30" y="407.36" text-anchor="end" textLength="20.22" lengthAdjust="spacingAndGlyphs">(5.33)</text>
<text class="r" x="570.12" y="407.36" text-anchor="end" textLength="15.07" lengthAdjust="spacingAndGlyphs">7.23</text>
<text class="r" x="630.02" y="407.36" text-anchor="end" textLength="19.38" lengthAdjust="spacingAndGlyphs">11.85</text>
<text class="r" x="689.02" y="407.36" text-anchor="end" textLength="15.07" lengthAdjust="spacingAndGlyphs">7.08</text>
<text class="r" x="756.82" y="407.36" text-anchor="end" textLength="15.07" lengthAdjust="spacingAndGlyphs">7.23</text>
<text class="r" x="808.80" y="407.36" text-anchor="end" textLength="20.22" lengthAdjust="spacingAndGlyphs">(2.76)</text>
<text class="r" x="858.30" y="407.36" text-anchor="end" textLength="20.22" lengthAdjust="spacingAndGlyphs">(5.33)</text>
<text class="r" x="905.32" y="407.36" text-anchor="end" textLength="15.07" lengthAdjust="spacingAndGlyphs">7.23</text>
<text class="r" x="957.20" y="407.36" text-anchor="end" textLength="20.22" lengthAdjust="spacingAndGlyphs">(0.96)</text>
<text class="r" x="1010.82" y="407.36" text-anchor="end" textLength="15.07" lengthAdjust="spacingAndGlyphs">7.08</text>
<text class="b" x="392.12" y="442.00" text-anchor="end" textLength="23.81" lengthAdjust="spacingAndGlyphs">429.76</text>
<text class="b" x="451.22" y="442.00" text-anchor="end" textLength="23.81" lengthAdjust="spacingAndGlyphs">473.23</text>
<text class="b" x="510.72" y="442.00" text-anchor="end" textLength="23.81" lengthAdjust="spacingAndGlyphs">199.24</text>
<text class="b" x="570.12" y="442.00" text-anchor="end" textLength="30.31" lengthAdjust="spacingAndGlyphs">1,072.55</text>
<text class="b" x="630.02" y="442.00" text-anchor="end" textLength="23.81" lengthAdjust="spacingAndGlyphs">449.36</text>
<text class="b" x="689.02" y="442.00" text-anchor="end" textLength="23.81" lengthAdjust="spacingAndGlyphs">582.21</text>
<text class="b" x="756.82" y="442.00" text-anchor="end" textLength="23.81" lengthAdjust="spacingAndGlyphs">444.79</text>
<text class="b" x="806.22" y="442.00" text-anchor="end" textLength="23.81" lengthAdjust="spacingAndGlyphs">521.75</text>
<text class="b" x="855.72" y="442.00" text-anchor="end" textLength="23.81" lengthAdjust="spacingAndGlyphs">199.24</text>
<text class="b" x="905.32" y="442.00" text-anchor="end" textLength="30.31" lengthAdjust="spacingAndGlyphs">1,156.77</text>
<text class="b" x="954.62" y="442.00" text-anchor="end" textLength="23.81" lengthAdjust="spacingAndGlyphs">593.71</text>
<text class="b" x="1010.82" y="442.00" text-anchor="end" textLength="23.81" lengthAdjust="spacingAndGlyphs">579.13</text>
<text class="r" x="394.70" y="464.73" text-anchor="end" textLength="20.22" lengthAdjust="spacingAndGlyphs">(0.15)</text>
<text class="r" x="453.80" y="464.73" text-anchor="end" textLength="20.22" lengthAdjust="spacingAndGlyphs">(0.15)</text>
<text class="r" x="510.72" y="464.73" text-anchor="end" textLength="15.07" lengthAdjust="spacingAndGlyphs">0.16</text>
<text class="r" x="572.70" y="464.73" text-anchor="end" textLength="20.22" lengthAdjust="spacingAndGlyphs">(0.45)</text>
<text class="r" x="630.02" y="464.73" text-anchor="end" textLength="15.07" lengthAdjust="spacingAndGlyphs">0.49</text>
<text class="r" x="691.60" y="464.73" text-anchor="end" textLength="20.22" lengthAdjust="spacingAndGlyphs">(0.60)</text>
<text class="r" x="759.40" y="464.73" text-anchor="end" textLength="20.22" lengthAdjust="spacingAndGlyphs">(0.15)</text>
<text class="r" x="808.80" y="464.73" text-anchor="end" textLength="20.22" lengthAdjust="spacingAndGlyphs">(0.15)</text>
<text class="r" x="855.72" y="464.73" text-anchor="end" textLength="15.07" lengthAdjust="spacingAndGlyphs">0.16</text>
<text class="r" x="907.90" y="464.73" text-anchor="end" textLength="20.22" lengthAdjust="spacingAndGlyphs">(0.45)</text>
<text class="r" x="954.62" y="464.73" text-anchor="end" textLength="15.07" lengthAdjust="spacingAndGlyphs">0.49</text>
<text class="r" x="1013.40" y="464.73" text-anchor="end" textLength="20.22" lengthAdjust="spacingAndGlyphs">(0.60)</text>
<text class="r" x="392.12" y="476.10" text-anchor="end" textLength="15.07" lengthAdjust="spacingAndGlyphs">0.04</text>
<text class="r" x="451.22" y="476.10" text-anchor="end" textLength="15.07" lengthAdjust="spacingAndGlyphs">0.04</text>
<text class="r" x="513.30" y="476.10" text-anchor="end" textLength="20.22" lengthAdjust="spacingAndGlyphs">(0.04)</text>
<text class="r" x="570.12" y="476.10" text-anchor="end" textLength="15.07" lengthAdjust="spacingAndGlyphs">0.11</text>
<text class="r" x="632.60" y="476.10" text-anchor="end" textLength="20.22" lengthAdjust="spacingAndGlyphs">(0.12)</text>
<text class="r" x="689.02" y="476.10" text-anchor="end" textLength="15.07" lengthAdjust="spacingAndGlyphs">0.15</text>
<text class="r" x="756.82" y="476.10" text-anchor="end" textLength="15.07" lengthAdjust="spacingAndGlyphs">0.04</text>
<text class="r" x="806.22" y="476.10" text-anchor="end" textLength="15.07" lengthAdjust="spacingAndGlyphs">0.04</text>
<text class="r" x="858.30" y="476.10" text-anchor="end" textLength="20.22" lengthAdjust="spacingAndGlyphs">(0.04)</text>
<text class="r" x="905.32" y="476.10" text-anchor="end" textLength="15.07" lengthAdjust="spacingAndGlyphs">0.11</text>
<text class="r" x="957.20" y="476.10" text-anchor="end" textLength="20.22" lengthAdjust="spacingAndGlyphs">(0.12)</text>
<text class="r" x="1010.82" y="476.10" text-anchor="end" textLength="15.07" lengthAdjust="spacingAndGlyphs">0.15</text>
<text class="b" x="392.12" y="487.30" text-anchor="end" textLength="23.81" lengthAdjust="spacingAndGlyphs">429.64</text>
<text class="b" x="451.22" y="487.30" text-anchor="end" textLength="23.81" lengthAdjust="spacingAndGlyphs">473.11</text>
<text class="b" x="510.72" y="487.30" text-anchor="end" textLength="23.81" lengthAdjust="spacingAndGlyphs">199.36</text>
<text class="b" x="570.12" y="487.30" text-anchor="end" textLength="30.31" lengthAdjust="spacingAndGlyphs">1,072.21</text>
<text class="b" x="630.02" y="487.30" text-anchor="end" textLength="23.81" lengthAdjust="spacingAndGlyphs">449.73</text>
<text class="b" x="689.02" y="487.30" text-anchor="end" textLength="23.81" lengthAdjust="spacingAndGlyphs">581.76</text>
<text class="b" x="756.82" y="487.30" text-anchor="end" textLength="23.81" lengthAdjust="spacingAndGlyphs">444.67</text>
<text class="b" x="806.22" y="487.30" text-anchor="end" textLength="23.81" lengthAdjust="spacingAndGlyphs">521.64</text>
<text class="b" x="855.72" y="487.30" text-anchor="end" textLength="23.81" lengthAdjust="spacingAndGlyphs">199.36</text>
<text class="b" x="905.32" y="487.30" text-anchor="end" textLength="30.31" lengthAdjust="spacingAndGlyphs">1,156.44</text>
<text class="b" x="954.62" y="487.30" text-anchor="end" textLength="23.81" lengthAdjust="spacingAndGlyphs">594.07</text>
<text class="b" x="1010.82" y="487.30" text-anchor="end" textLength="23.81" lengthAdjust="spacingAndGlyphs">578.68</text>
<text class="r" x="392.12" y="498.74" text-anchor="end" textLength="30.12" lengthAdjust="spacingAndGlyphs">1,110.37</text>
<text class="r" x="451.22" y="498.74" text-anchor="end" textLength="30.12" lengthAdjust="spacingAndGlyphs">1,110.37</text>
<text class="r" x="510.72" y="498.74" text-anchor="end" textLength="30.12" lengthAdjust="spacingAndGlyphs">1,110.37</text>
<text class="r" x="570.12" y="498.74" text-anchor="end" textLength="30.12" lengthAdjust="spacingAndGlyphs">1,110.37</text>
<text class="r" x="630.02" y="498.74" text-anchor="end" textLength="30.12" lengthAdjust="spacingAndGlyphs">1,110.37</text>
<text class="r" x="689.02" y="498.74" text-anchor="end" textLength="30.12" lengthAdjust="spacingAndGlyphs">1,110.37</text>
<text class="r" x="756.82" y="498.74" text-anchor="end" textLength="30.12" lengthAdjust="spacingAndGlyphs">1,110.37</text>
<text class="r" x="806.22" y="498.74" text-anchor="end" textLength="30.12" lengthAdjust="spacingAndGlyphs">1,110.37</text>
<text class="r" x="855.72" y="498.74" text-anchor="end" textLength="30.12" lengthAdjust="spacingAndGlyphs">1,110.37</text>
<text class="r" x="905.32" y="498.74" text-anchor="end" textLength="30.12" lengthAdjust="spacingAndGlyphs">1,110.37</text>
<text class="r" x="954.62" y="498.74" text-anchor="end" textLength="30.12" lengthAdjust="spacingAndGlyphs">1,110.37</text>
<text class="r" x="1010.82" y="498.74" text-anchor="end" textLength="30.12" lengthAdjust="spacingAndGlyphs">1,110.37</text>
<text class="r" x="392.12" y="510.19" text-anchor="end" textLength="19.38" lengthAdjust="spacingAndGlyphs">23.84</text>
<text class="r" x="451.22" y="510.19" text-anchor="end" textLength="19.38" lengthAdjust="spacingAndGlyphs">23.84</text>
<text class="r" x="570.12" y="510.19" text-anchor="end" textLength="19.38" lengthAdjust="spacingAndGlyphs">23.84</text>
<text class="r" x="756.82" y="510.19" text-anchor="end" textLength="19.38" lengthAdjust="spacingAndGlyphs">23.84</text>
<text class="r" x="806.22" y="510.19" text-anchor="end" textLength="19.38" lengthAdjust="spacingAndGlyphs">23.84</text>
<text class="r" x="905.32" y="510.19" text-anchor="end" textLength="19.38" lengthAdjust="spacingAndGlyphs">23.84</text>
<text class="r" x="392.12" y="555.96" text-anchor="end" textLength="15.07" lengthAdjust="spacingAndGlyphs">3.87</text>
<text class="r" x="451.22" y="555.96" text-anchor="end" textLength="15.07" lengthAdjust="spacingAndGlyphs">4.26</text>
<text class="r" x="510.72" y="555.96" text-anchor="end" textLength="15.07" lengthAdjust="spacingAndGlyphs">1.79</text>
<text class="r" x="570.12" y="555.96" text-anchor="end" textLength="15.07" lengthAdjust="spacingAndGlyphs">9.66</text>
<text class="r" x="630.02" y="555.96" text-anchor="end" textLength="15.07" lengthAdjust="spacingAndGlyphs">4.05</text>
<text class="r" x="689.02" y="555.96" text-anchor="end" textLength="15.07" lengthAdjust="spacingAndGlyphs">5.24</text>
<text class="r" x="756.82" y="555.96" text-anchor="end" textLength="15.07" lengthAdjust="spacingAndGlyphs">4.01</text>
<text class="r" x="806.22" y="555.96" text-anchor="end" textLength="15.07" lengthAdjust="spacingAndGlyphs">4.70</text>
<text class="r" x="855.72" y="555.96" text-anchor="end" textLength="15.07" lengthAdjust="spacingAndGlyphs">1.79</text>
<text class="r" x="905.32" y="555.96" text-anchor="end" textLength="19.38" lengthAdjust="spacingAndGlyphs">10.42</text>
<text class="r" x="954.62" y="555.96" text-anchor="end" textLength="15.07" lengthAdjust="spacingAndGlyphs">5.35</text>
<text class="r" x="1010.82" y="555.96" text-anchor="end" textLength="15.07" lengthAdjust="spacingAndGlyphs">5.22</text>
<text class="r" x="392.12" y="567.40" text-anchor="end" textLength="15.07" lengthAdjust="spacingAndGlyphs">3.19</text>
<text class="r" x="451.22" y="567.40" text-anchor="end" textLength="15.07" lengthAdjust="spacingAndGlyphs">3.51</text>
<text class="r" x="510.72" y="567.40" text-anchor="end" textLength="15.07" lengthAdjust="spacingAndGlyphs">1.79</text>
<text class="r" x="570.12" y="567.40" text-anchor="end" textLength="15.07" lengthAdjust="spacingAndGlyphs">7.95</text>
<text class="r" x="630.02" y="567.40" text-anchor="end" textLength="15.07" lengthAdjust="spacingAndGlyphs">4.05</text>
<text class="r" x="689.02" y="567.40" text-anchor="end" textLength="15.07" lengthAdjust="spacingAndGlyphs">5.24</text>
<text class="r" x="756.82" y="567.40" text-anchor="end" textLength="15.07" lengthAdjust="spacingAndGlyphs">3.30</text>
<text class="r" x="806.22" y="567.40" text-anchor="end" textLength="15.07" lengthAdjust="spacingAndGlyphs">3.87</text>
<text class="r" x="855.72" y="567.40" text-anchor="end" textLength="15.07" lengthAdjust="spacingAndGlyphs">1.79</text>
<text class="r" x="905.32" y="567.40" text-anchor="end" textLength="15.07" lengthAdjust="spacingAndGlyphs">8.58</text>
<text class="r" x="954.62" y="567.40" text-anchor="end" textLength="15.07" lengthAdjust="spacingAndGlyphs">5.35</text>
<text class="r" x="1010.82" y="567.40" text-anchor="end" textLength="15.07" lengthAdjust="spacingAndGlyphs">5.22</text>
</svg>
</body></html>
